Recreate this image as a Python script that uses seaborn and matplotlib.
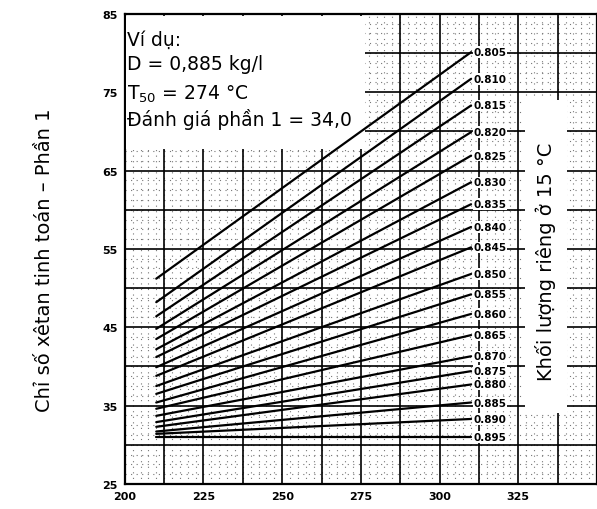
import numpy as np
import pandas as pd
import seaborn as sns
import matplotlib.pyplot as plt
from matplotlib.patches import Rectangle
from matplotlib.ticker import MultipleLocator

# density at 15 °C (kg/l) for each line
densities = ['0.805', '0.810', '0.815', '0.820', '0.825', '0.830', '0.835',
             '0.840', '0.845', '0.850', '0.855', '0.860', '0.865', '0.870',
             '0.875', '0.880', '0.885', '0.890', '0.895']
t_range = [210, 310]  # T50, °C
cci_start = [51.2, 48.2, 46.4, 44.8, 43.5, 42.2, 41.2, 39.9, 38.8, 37.5,
             36.5, 35.4, 34.6, 33.7, 32.9, 32.3, 31.7, 31.4, 31.0]
cci_end = [80.1, 76.7, 73.3, 69.9, 66.9, 63.5, 60.7, 57.8, 55.2, 51.8,
           49.2, 46.7, 44.0, 41.3, 39.4, 37.7, 35.4, 33.3, 31.0]
x_ticks = [200, 225, 250, 275, 300, 325]
y_ticks = [25, 35, 45, 55, 65, 75, 85]

rows = []
for d, a, b in zip(densities, cci_start, cci_end):
    rows.append({'T50': t_range[0], 'CCI': a, 'D': d})
    rows.append({'T50': t_range[1], 'CCI': b, 'D': d})
df = pd.DataFrame(rows)

sns.set_style("white")
plt.rcParams['font.family'] = ['DejaVu Sans']
plt.rcParams['text.color'] = 'black'

fig = plt.figure(figsize=(5.97, 5.10), dpi=100)
ax = fig.add_axes([0.209, 0.049, 0.791, 0.922])

sns.lineplot(data=df, x='T50', y='CCI', hue='D', palette=['black'] * len(densities),
             legend=False, lw=1.6, ax=ax, zorder=4)

ax.set_xlim(200, 350)
ax.set_ylim(25, 85)

# dotted fine grid
ax.xaxis.set_minor_locator(MultipleLocator(2.5))
ax.yaxis.set_minor_locator(MultipleLocator(1.25))
ax.grid(which='minor', color='#777777', lw=0.8, ls=(0, (1, 4)), zorder=1)
ax.set_axisbelow(True)

ax.set_xticks(x_ticks)
ax.set_yticks(y_ticks)
ax.set_xticklabels([str(v) for v in x_ticks], fontsize=8, fontweight='bold')
ax.set_yticklabels([str(v) for v in y_ticks], fontsize=8, fontweight='bold')
ax.tick_params(which='major', length=3, width=1, color='black', pad=2, labelcolor='black')
ax.tick_params(which='minor', length=0)
# heavy grid lines every 12.5 / 5
for xv in np.arange(200, 351, 12.5):
    ax.axvline(xv, color='black', lw=1.2, zorder=1)
for yv in np.arange(25, 86, 5):
    ax.axhline(yv, color='black', lw=1.2, zorder=1)
for s in ax.spines.values():
    s.set_color('black')
    s.set_linewidth(1.6)
ax.set_xlabel('')
ax.set_ylabel('')

# example box
ax.add_patch(Rectangle((200.3, 67.8), 76, 16.9, facecolor='white', edgecolor='none', zorder=3))
ax.text(200.8, 81.7, 'Ví dụ:', fontsize=13.5, va='center', zorder=5)
ax.text(200.8, 78.6, 'D = 0,885 kg/l', fontsize=13.5, va='center', zorder=5)
ax.text(200.8, 74.9, 'T$_{50}$ = 274 °C', fontsize=13.5, va='center', zorder=5)
ax.text(200.8, 71.6, 'Đánh giá phần 1 = 34,0', fontsize=13.5, va='center', zorder=5)

# density labels
for d, b in zip(densities, cci_end):
    ax.text(310.8, b, d, fontsize=7.5, fontweight='bold', va='center', ha='left',
            zorder=5, bbox=dict(facecolor='white', edgecolor='none', pad=0.5))

# right-hand title
ax.add_patch(Rectangle((327, 34), 13.5, 40, facecolor='white', edgecolor='none', zorder=3))
ax.text(333.5, 53.5, 'Khối lượng riêng ở 15 °C', rotation=90, fontsize=14,
        va='center', ha='center', zorder=5)

fig.text(0.075, 0.49, 'Chỉ số xêtan tinh toán – Phần 1', rotation=90, fontsize=14,
         va='center', ha='center')

fig.savefig('out.png', dpi=100)
